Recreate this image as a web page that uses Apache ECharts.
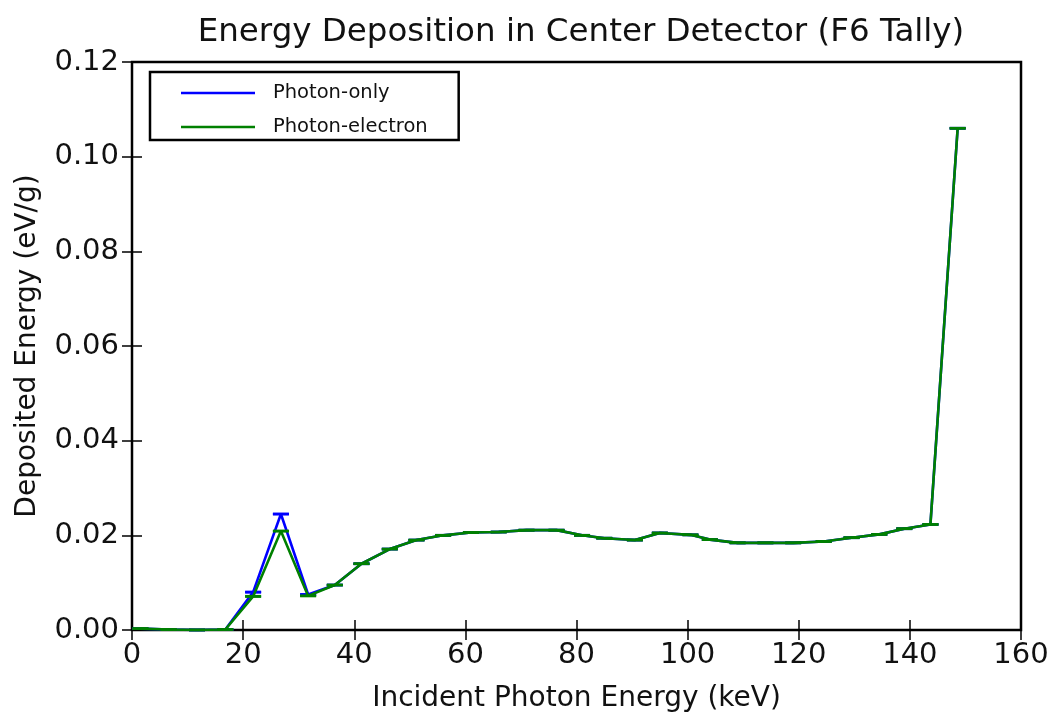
<!DOCTYPE html>
<html>
<head>
<meta charset="utf-8">
<script src="https://cdn.jsdelivr.net/npm/echarts@6/dist/echarts.min.js"></script>
<style>
  html, body { margin: 0; padding: 0; background: #fff; }
  #chart { width: 1055px; height: 724px; }
</style>
</head>
<body>
<div id="chart"></div>
<script>
// Incident photon energies (keV) of each tally point
const energies = [1.5, 6.6, 11.7, 16.8, 21.8, 26.8, 31.7, 36.5, 41.3, 46.4, 51.2, 56.0, 61.0, 66.0, 71.0, 76.4, 81.0, 85.0, 90.5, 95.0, 100.5, 104.0, 109.0, 114.0, 119.0, 124.5, 129.5, 134.5, 139.0, 143.7, 148.6];

// Deposited energy (eV/g), photon-only transport
const photonOnly = [0.0003, 0.0001, 0.0000, 0.0001, 0.0080, 0.0245, 0.0075, 0.0095, 0.0140, 0.0171, 0.0190, 0.0200, 0.0206, 0.0207, 0.0211, 0.0211, 0.0200, 0.0194, 0.0190, 0.0205, 0.0201, 0.0191, 0.0184, 0.0184, 0.0184, 0.0187, 0.0195, 0.0202, 0.0214, 0.0223, 0.1060];

// Deposited energy (eV/g), coupled photon-electron transport
const photonElectron = [0.0003, 0.0001, 0.0000, 0.0001, 0.0071, 0.0209, 0.0072, 0.0095, 0.0140, 0.0171, 0.0190, 0.0200, 0.0206, 0.0207, 0.0211, 0.0211, 0.0200, 0.0194, 0.0190, 0.0205, 0.0201, 0.0191, 0.0184, 0.0184, 0.0184, 0.0187, 0.0195, 0.0202, 0.0214, 0.0223, 0.1060];

// One-sigma statistical uncertainties
const photonOnlyErr = [0.00002, 0.00002, 0.00000, 0.00000, 0.00005, 0.00005, 0.00003, 0.00003, 0.00003, 0.00003, 0.00003, 0.00003, 0.00003, 0.00003, 0.00003, 0.00003, 0.00003, 0.00003, 0.00003, 0.00003, 0.00003, 0.00003, 0.00003, 0.00003, 0.00003, 0.00003, 0.00003, 0.00003, 0.00003, 0.00003, 0.00003];
const photonElectronErr = [0.00002, 0.00002, 0.00000, 0.00000, 0.00005, 0.00005, 0.00003, 0.00003, 0.00003, 0.00003, 0.00003, 0.00003, 0.00003, 0.00003, 0.00003, 0.00003, 0.00003, 0.00003, 0.00003, 0.00003, 0.00003, 0.00003, 0.00003, 0.00003, 0.00003, 0.00003, 0.00003, 0.00003, 0.00003, 0.00003, 0.00003];

const BLUE = '#0000ff';
const GREEN = '#008000';
const FONT = '"DejaVu Sans", sans-serif';
const INK = '#111';

function pairs(xs, ys) { return xs.map((x, i) => [x, ys[i]]); }
function errRows(xs, ys, es) { return xs.map((x, i) => [x, ys[i] - es[i], ys[i] + es[i]]); }

// Vertical error bar with caps at both ends
function errorBar(color) {
  return function (params, api) {
    const x = api.value(0);
    const lo = api.coord([x, api.value(1)]);
    const hi = api.coord([x, api.value(2)]);
    const half = 8;
    const style = { stroke: color, lineWidth: 2.5 };
    return {
      type: 'group',
      children: [
        { type: 'line', shape: { x1: lo[0], y1: lo[1], x2: hi[0], y2: hi[1] }, style },
        { type: 'line', shape: { x1: lo[0] - half, y1: lo[1], x2: lo[0] + half, y2: lo[1] }, style },
        { type: 'line', shape: { x1: hi[0] - half, y1: hi[1], x2: hi[0] + half, y2: hi[1] }, style }
      ]
    };
  };
}

const tickStyle = { show: true, inside: true, length: 10, lineStyle: { color: '#000', width: 1.5 } };

const chart = echarts.init(document.getElementById('chart'), null, { renderer: 'canvas' });
chart.setOption({
  animation: false,
  backgroundColor: '#fff',
  textStyle: { fontFamily: FONT },
  title: {
    text: 'Energy Deposition in Center Detector (F6 Tally)',
    left: 576, top: 11, textAlign: 'center',
    textStyle: { fontFamily: FONT, fontSize: 32.5, fontWeight: 'normal', color: INK }
  },
  legend: {
    left: 150, top: 72,
    orient: 'vertical',
    data: ['Photon-only', 'Photon-electron'],
    icon: 'rect',
    itemWidth: 74, itemHeight: 2.5,
    itemGap: 14,
    padding: [11, 31, 3, 31],
    borderColor: '#000', borderWidth: 2.5, borderRadius: 0,
    backgroundColor: '#fff',
    textStyle: { fontFamily: FONT, fontSize: 19.5, color: INK, padding: [0, 0, 0, 13] }
  },
  grid: {
    left: 132, right: 34, top: 62, bottom: 94,
    show: true, borderColor: '#000', borderWidth: 2.5, backgroundColor: 'transparent'
  },
  xAxis: [
    {
      type: 'value', min: 0, max: 160, interval: 20,
      name: 'Incident Photon Energy (keV)', nameLocation: 'middle', nameGap: 55,
      nameTextStyle: { fontFamily: FONT, fontSize: 28, color: INK },
      axisLine: { show: false }, axisTick: tickStyle, splitLine: { show: false },
      axisLabel: { fontFamily: FONT, fontSize: 29, color: INK, margin: 11 }
    },
    {
      type: 'value', min: 0, max: 160, interval: 20, position: 'top',
      axisLine: { show: false }, axisTick: tickStyle, splitLine: { show: false },
      axisLabel: { show: false }
    }
  ],
  yAxis: [
    {
      type: 'value', min: 0, max: 0.12, interval: 0.02,
      name: 'Deposited Energy (eV/g)', nameLocation: 'middle', nameGap: 90, nameRotate: 90,
      nameTextStyle: { fontFamily: FONT, fontSize: 28, color: INK },
      axisLine: { show: false }, axisTick: tickStyle, splitLine: { show: false },
      axisLabel: { fontFamily: FONT, fontSize: 29, color: INK, margin: 13, formatter: v => v.toFixed(2) }
    },
    {
      type: 'value', min: 0, max: 0.12, interval: 0.02, position: 'right',
      axisLine: { show: false }, axisTick: tickStyle, splitLine: { show: false },
      axisLabel: { show: false }
    }
  ],
  series: [
    {
      name: 'Photon-only', type: 'line', data: pairs(energies, photonOnly),
      showSymbol: false, symbol: 'none', color: BLUE,
      lineStyle: { color: BLUE, width: 2.6 }, z: 2
    },
    {
      name: 'Photon-only-err', type: 'custom', data: errRows(energies, photonOnly, photonOnlyErr),
      renderItem: errorBar(BLUE), encode: { x: 0, y: [1, 2] }, z: 2
    },
    {
      name: 'Photon-electron', type: 'line', data: pairs(energies, photonElectron),
      showSymbol: false, symbol: 'none', color: GREEN,
      lineStyle: { color: GREEN, width: 2.6 }, z: 3
    },
    {
      name: 'Photon-electron-err', type: 'custom', data: errRows(energies, photonElectron, photonElectronErr),
      renderItem: errorBar(GREEN), encode: { x: 0, y: [1, 2] }, z: 3
    }
  ]
});
</script>
</body>
</html>
